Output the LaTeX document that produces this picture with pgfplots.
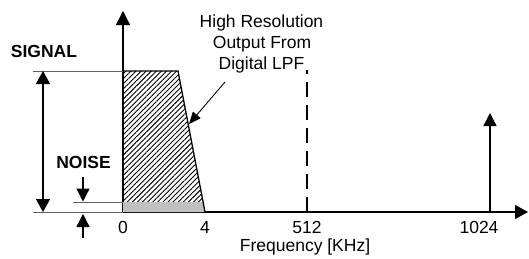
\documentclass[border=0pt]{standalone}
\usepackage{fontspec}
\setmainfont{Liberation Sans}
\usepackage{pgfplots}
\pgfplotsset{compat=1.18}
\usetikzlibrary{arrows.meta,patterns.meta}
\definecolor{noisegray}{HTML}{C0C0C0}
\definecolor{refgray}{HTML}{606060}
\begin{document}
\fontsize{17.5}{21}\selectfont
\begin{tikzpicture}
\begin{axis}[
 x=1pt, y=1pt,
 xmin=0, xmax=405, ymin=0, ymax=201,
 axis lines=middle,
 clip=false,
 axis line style={line width=1.3pt},
 x axis line style={-{Triangle[width=14pt,length=13pt]}},
 y axis line style={-{Triangle[width=14pt,length=14pt]}},
 xtick={0,82,184,356}, xticklabels={0,4,512,1024},
 ytick=\empty,
 major tick length=0pt,
 hide obscured x ticks=false,
 /pgf/number format/assume math mode=true,
 xticklabel style={anchor=base, yshift=-21.5pt, inner sep=0pt, font=\fontsize{17.5}{21}\selectfont},
]
% bounding frame of the picture
\path (axis cs:-123,-46) rectangle (axis cs:406,212);
% signal spectrum (hatched) after digital LPF
\addplot[draw=none, pattern={Lines[angle=45, distance=3.6pt, line width=0.9pt]}] coordinates {(0,0) (0,141) (55,141) (82,0)} -- cycle;
% noise floor band
\addplot[draw=none, fill=noisegray] coordinates {(0,0) (0,10) (80.1,10) (82,0)} -- cycle;
\addplot[black, line width=1.3pt] coordinates {(0,141) (55,141) (82,0)};
% reference lines
\addplot[refgray, line width=1pt] coordinates {(-90,141) (0,141)};
\addplot[refgray, line width=1pt] coordinates {(-50,10) (0,10)};
\addplot[refgray, line width=1pt] coordinates {(-90,0) (0,0)};
% signal double arrow
\addplot[black, line width=1.3pt, {Triangle[width=14pt,length=13pt]}-{Triangle[width=14pt,length=13pt]}] coordinates {(-80,0) (-80,141)};
% noise arrows
\addplot[black, line width=1.3pt, -{Triangle[width=13pt,length=13pt]}] coordinates {(-40,35) (-40,10.5)};
\addplot[black, line width=1.3pt, -{Triangle[width=13pt,length=13pt]}] coordinates {(-40,-26) (-40,-2)};
% Nyquist dashed line at 512
\addplot[black, line width=1.3pt, dash pattern=on 15pt off 8pt] coordinates {(184,0) (184,142)};
% image at 1024
\addplot[black, line width=1.3pt, -{Triangle[width=13pt,length=13pt]}] coordinates {(367,0) (367,99)};
% leader arrow
\addplot[black, line width=0.9pt, -{Triangle[width=10pt,length=12pt]}] coordinates {(102,130) (66,88)};
% texts
\node[anchor=base, inner sep=0pt, font=\bfseries] at (axis cs:-79,155) {SIGNAL};
\node[anchor=base, inner sep=0pt, font=\bfseries] at (axis cs:-39.5,43.7) {NOISE};
\node[anchor=base, inner sep=0pt] at (axis cs:138.5,184.5) {High Resolution};
\node[anchor=base, inner sep=0pt] at (axis cs:139,164) {Output From};
\node[anchor=base, inner sep=0pt] at (axis cs:138.5,142.5) {Digital LPF};
\node[anchor=base, inner sep=0pt] at (axis cs:182,-39.5) {Frequency [KHz]};
\end{axis}
\end{tikzpicture}
\end{document}
